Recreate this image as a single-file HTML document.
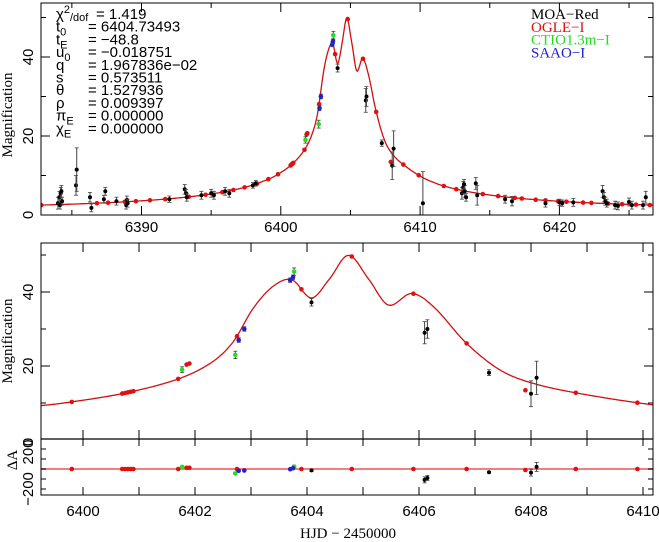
<!DOCTYPE html>
<html><head><meta charset="utf-8"><style>
html,body{margin:0;padding:0;background:#fff;width:659px;height:542px;overflow:hidden}
svg{display:block}
.tk{font-family:"Liberation Sans",sans-serif;font-size:15px}
.sf{font-family:"Liberation Serif",serif}
</style></head><body>
<svg id="s" width="659" height="542" xmlns="http://www.w3.org/2000/svg"></svg>
<script>
var S=document.getElementById('s'),out='';
function pspl(t){var u0=0.018751,tE=48.8,t0=6404.73493;var u=Math.sqrt(u0*u0+Math.pow((t-t0)/tE,2));return 1.05*(u*u+2)/(u*Math.sqrt(u*u+4));}
var K=[[6398.2,pspl(6398.2)],[6399.26,9.3],[6399.8,10.3],[6400.75,12.7],[6401.7,16.5],[6402.3,21],[6402.68,26.5],[6403.04,35.6],[6403.4,41.6],[6403.73,43.3],[6404.08,38.4],[6404.4,43.5],[6404.74,49.9],[6405.1,43.5],[6405.45,36.5],[6405.87,39.6],[6406.26,36],[6406.85,26.1],[6407.45,18.9],[6408.04,15.3],[6408.93,12.4],[6410.18,9.5],[6411.3,pspl(6411.3)]];
function model(t){if(t<=K[0][0]||t>=K[K.length-1][0])return pspl(t);
for(var i=0;i<K.length-1;i++){if(t<=K[i+1][0]){var p0=K[Math.max(0,i-1)],p1=K[i],p2=K[i+1],p3=K[Math.min(K.length-1,i+2)];
var h=p2[0]-p1[0],s=(t-p1[0])/h;var m1=(p2[1]-p0[1])/(p2[0]-p0[0])*h,m2=(p3[1]-p1[1])/(p3[0]-p1[0])*h;
var s2=s*s,s3=s2*s;return (2*s3-3*s2+1)*p1[1]+(s3-2*s2+s)*m1+(-2*s3+3*s2)*p2[1]+(s3-s2)*m2;}}}
function X1(t){return 141.5+(t-6390)*13.93}function Y1(a){return 215-a*3.95}
function X2(t){return 83+(t-6400)*56}function Y2(a){return 440-a*3.7}
function Y3(r){return 469-r*0.1}
function line(x1,y1,x2,y2,c,w){out+='<line x1="'+x1+'" y1="'+y1+'" x2="'+x2+'" y2="'+y2+'" stroke="'+(c||'#000')+'" stroke-width="'+(w||1)+'"/>';}
function txt(x,y,s,extra){out+='<text x="'+x+'" y="'+y+'" '+(extra||'')+'>'+s+'</text>';}
var col={k:'#000',r:'#e01010',g:'#22dd22',b:'#2020cc'};
function curve(X,Y,t0,t1){var d='';for(var t=t0;t<=t1;t+=(t1-t0)/900){var y=Y(model(t));d+=(d?'L':'M')+X(t).toFixed(1)+' '+y.toFixed(1);}out+='<path d="'+d+'" fill="none" stroke="#d01010" stroke-width="1.3"/>';}
out+='<clipPath id="c1"><rect x="41" y="3" width="612" height="212"/></clipPath><clipPath id="c2"><rect x="41" y="243" width="612" height="196"/></clipPath><clipPath id="c3"><rect x="41" y="439" width="612" height="56"/></clipPath>';
out+='<g clip-path="url(#c1)">';curve(X1,Y1,6382.5,6427);out+='</g>';
out+='<g clip-path="url(#c2)">';curve(X2,Y2,6399.2,6410.3);out+='</g>';
line(41,469,653,469,'#f08080',2);
var blk=[[6384.0,3,1.5],[6384.1,4.5,1.5],[6384.2,5.5,1.5],[6384.15,2.5,1],[6384.25,6,1.5],[6384.3,3.5,1],[6385.3,7.5,2.5],[6385.35,11.5,5.5],[6386.3,4.5,1.2],[6386.4,1.8,1],[6387.3,4,1],[6387.4,6,1],[6388.2,3.5,1],[6388.9,2.5,1],[6388.95,3.8,1],[6389.0,3,1],[6392.0,4,0.8],[6393.1,6.5,1.2],[6393.2,5.5,1],[6393.25,4.5,1],[6394.3,5,1],[6395.0,5.5,1],[6395.2,5,1],[6396.0,6,1],[6396.3,5.5,1],[6398.0,7.5,0.7],[6398.2,8,0.7],[6404.08,37.2,1],[6406.1,29,3],[6406.15,30,2.5],[6407.25,18.2,0.8],[6408.0,12.5,3.5],[6408.1,16.8,4.5],[6410.2,3,8],[6413.0,5.5,1.5],[6413.1,7,1.5],[6413.2,6,1.5],[6413.3,4.5,1],[6413.15,7.8,1.2],[6414.0,8,1.5],[6414.1,5,2.5],[6416.1,4,1],[6416.6,3.5,1.2],[6419.0,3,1],[6420.0,3.2,0.8],[6420.2,3,0.8],[6421.0,3.2,1],[6423.1,6,1.5],[6423.2,4.5,1.2],[6423.3,3.5,1],[6423.4,3,1],[6424.0,2.5,1],[6424.2,2.3,1],[6425.0,3.3,1],[6425.2,2.5,1],[6426.0,2.5,1],[6426.2,4.5,1.5]];
var red=[6382.8,6386.8,6387.6,6388.8,6389.6,6390.6,6391.7,6393.4,6394.6,6395.8,6396.6,6397.4,6398.3,6399.1,6399.8,6400.7,6400.75,6400.8,6400.85,6400.9,6401.7,6402.75,6403.9,6404.8,6405.9,6406.85,6408.8,6409.9,6411.7,6412.6,6414.5,6415.6,6416.8,6417.3,6418.3,6419.0,6419.9,6420.5,6421.7,6422.3,6423.5,6424.5,6425.5,6426.5,6401.85,6401.9,6407.9];
var redOff={6401.85:3,6401.9:3,6407.9:-2.5};
var grn=[[6401.77,19,0.8],[6402.72,23,1],[6403.77,45.5,1]];
var blu=[[6402.78,27,0.6],[6402.88,30,0.6],[6403.7,43.2,0.6],[6403.75,44,0.6]];
var g1='',g2='',g3='';
function pt(t,a,e,c,X,Y,r){var s='';var x=X(t),y=Y(a);if(e){var dy=Math.abs(Y(a+e)-y);s+='<line x1="'+x+'" y1="'+(y-dy)+'" x2="'+x+'" y2="'+(y+dy)+'" stroke="#444"/><line x1="'+(x-2)+'" y1="'+(y-dy)+'" x2="'+(x+2)+'" y2="'+(y-dy)+'" stroke="#444" stroke-width="0.8"/><line x1="'+(x-2)+'" y1="'+(y+dy)+'" x2="'+(x+2)+'" y2="'+(y+dy)+'" stroke="#444" stroke-width="0.8"/>';}s+='<circle cx="'+x.toFixed(1)+'" cy="'+y.toFixed(1)+'" r="'+(r||2.3)+'" fill="'+c+'"/>';return s;}
function inMid(t){return t>6399.2&&t<6410.15}
red.forEach(function(t){var o=redOff[t]||0;var a=model(t)+o;g1+=pt(t,a,0,col.r,X1,Y1);if(inMid(t)){g2+=pt(t,a,0,col.r,X2,Y2);g3+=pt(t,o*4,0,col.r,X2,Y3);}});
blk.forEach(function(p){g1+=pt(p[0],p[1],p[2],col.k,X1,Y1,2);if(inMid(p[0])){g2+=pt(p[0],p[1],p[2],col.k,X2,Y2,2);g3+=pt(p[0],(p[1]-model(p[0]))*12,p[2]*10,col.k,X2,Y3,2);}});
grn.forEach(function(p){g1+=pt(p[0],p[1],p[2],col.g,X1,Y1);g2+=pt(p[0],p[1],p[2],col.g,X2,Y2);g3+=pt(p[0],(p[1]-model(p[0]))*10,p[2]*10,col.g,X2,Y3);});
blu.forEach(function(p){g1+=pt(p[0],p[1],p[2],col.b,X1,Y1);g2+=pt(p[0],p[1],p[2],col.b,X2,Y2);g3+=pt(p[0],(p[1]-model(p[0]))*10,0,col.b,X2,Y3);});
out+='<g clip-path="url(#c1)">'+g1+'</g><g clip-path="url(#c2)">'+g2+'</g><g clip-path="url(#c3)">'+g3+'</g>';
out+='<rect x="41" y="3" width="612" height="212" fill="none" stroke="#000" stroke-width="1"/>';
out+='<rect x="41" y="243" width="612" height="252" fill="none" stroke="#000" stroke-width="1"/>';
line(41,439,653,439,'#000',1.2);
for(var t=6385;t<=6425;t+=5){var x=X1(t),L=(t%10==0)?9:5;line(x,215,x,215-L);line(x,3,x,3+L);}
for(var t=6390;t<=6420;t+=10)txt(X1(t),232,t,'class="tk" text-anchor="middle"');
for(var a=10;a<=50;a+=10){var y=Y1(a),L=(a%20==0)?9:5;line(41,y,41+L,y);line(653,y,653-L,y);}
[0,20,40].forEach(function(a){txt(0,0,a,'class="tk" text-anchor="middle" transform="translate(33,'+Y1(a)+') rotate(-90)"');});
for(var t=6400;t<=6410;t++){var x=X2(t);line(x,439,x,430);line(x,243,x,252);line(x,495,x,487);line(x,439,x,446);}
for(var t=6400;t<=6410;t+=2)txt(X2(t),516,t,'class="tk" text-anchor="middle"');
for(var a=10;a<=50;a+=10){var y=Y2(a),L=(a%20==0)?9:5;line(41,y,41+L,y);line(653,y,653-L,y);}
[20,40].forEach(function(a){txt(0,0,a,'class="tk" text-anchor="middle" transform="translate(33,'+Y2(a)+') rotate(-90)"');});
[-200,-100,0,100,200].forEach(function(r){var y=Y3(r);line(41,y,46,y);line(653,y,648,y);});
txt(0,0,'200','class="tk" text-anchor="middle" transform="translate(33,452) rotate(-90)"');
txt(0,0,'0','class="tk" text-anchor="middle" transform="translate(33,442) rotate(-90)"');
txt(0,0,'&#8722;200','class="tk" text-anchor="middle" transform="translate(33,489) rotate(-90)"');
txt(0,0,'&#916;A','class="sf" font-size="15" text-anchor="middle" transform="translate(17,460) rotate(-90)"');
txt(0,0,'Magnification','class="sf" font-size="15" text-anchor="middle" transform="translate(12,115) rotate(-90)"');
txt(0,0,'Magnification','class="sf" font-size="15" text-anchor="middle" transform="translate(12,341) rotate(-90)"');
txt(348,538,'HJD &#8722; 2450000','class="sf" font-size="15" text-anchor="middle"');
var P=[['&#967;<tspan dy="-6" font-size="11">2</tspan><tspan dy="8" font-size="11">/dof</tspan>','= 1.419',1],['t<tspan dy="4" font-size="11">0</tspan>','= 6404.73493'],['t<tspan dy="4" font-size="11">E</tspan>','=  &#8722;48.8'],['u<tspan dy="4" font-size="11">0</tspan>','= &#8722;0.018751'],['q','= 1.967836e&#8722;02'],['s','= 0.573511'],['&#952;','= 1.527936'],['&#961;','= 0.009397'],['&#960;<tspan dy="4" font-size="11">E</tspan>','= 0.000000'],['&#967;<tspan dy="4" font-size="11">E</tspan>','= 0.000000']];
P.forEach(function(p,i){var y=19+i*12.7;txt(56,y,p[0],'class="tk"');txt(p[2]?96:88,y,p[1],'class="tk" font-size="16"');});
[['MOA&#8722;Red','#000'],['OGLE&#8722;I','#e01010'],['CTIO1.3m&#8722;I','#22dd22'],['SAAO&#8722;I','#2020cc']].forEach(function(l,i){txt(531,19+i*12.8,l[0],'class="sf" font-size="15" fill="'+l[1]+'"');});
S.innerHTML=out;
</script>
</body></html>
